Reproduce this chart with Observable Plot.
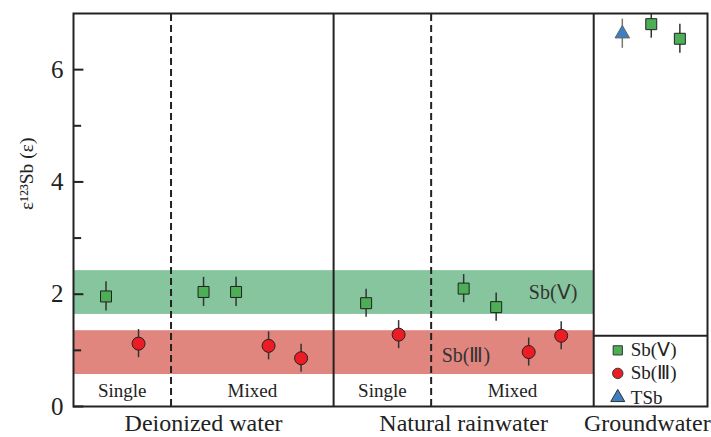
<!DOCTYPE html>
<html>
<head>
<meta charset="utf-8">
<script src="https://cdn.jsdelivr.net/npm/d3@7"></script>
<script src="https://cdn.jsdelivr.net/npm/@observablehq/plot@0.6"></script>
<style>
  body { margin: 0; background: #fff; }
  #chart svg { display: block; }
  #chart svg, #chart svg text { font-family: "Liberation Serif", "Times New Roman", serif !important; }
</style>
</head>
<body>
<div id="chart"></div>
<script>
// ---- data ----
const sbV_x   = [1, 4, 5, 9, 12, 13, 17.77, 18.65];
const sbV_y   = [1.96, 2.04, 2.04, 1.84, 2.10, 1.77, 6.81, 6.55];
const sbV_err = [0.26, 0.26, 0.26, 0.25, 0.25, 0.25, 0.25, 0.26];

const sbIII_x   = [2, 6, 7, 10, 14, 15];
const sbIII_y   = [1.12, 1.08, 0.86, 1.28, 0.97, 1.26];
const sbIII_err = [0.25, 0.25, 0.25, 0.25, 0.25, 0.25];

const tsb_x   = [16.88];
const tsb_y   = [6.64];
const tsb_err = [0.26];

const bandNames = ["Sb(Ⅴ)", "Sb(Ⅲ)"];
const bandLow   = [1.64, 0.57];
const bandHigh  = [2.42, 1.35];
const bandColor = ["#86c59e", "#e0867f"];
const bandLabelX = [14.75, 12.07];
const bandLabelY = [2.02, 0.91];

const subLabels = ["Single", "Mixed", "Single", "Mixed"];
const subLabelX = [1.5, 5.5, 9.5, 13.5];

const groupLabels = ["Deionized water", "Natural rainwater", "Groundwater"];
const groupLabelX = [4.0, 12.0, 17.65];

const yTicks = [0, 2, 4, 6];
const yMinorTicks = [1, 3, 5];
const panelBounds = [8, 16];
const dashedBounds = [3, 11];

const legendNames = ["Sb(Ⅴ)", "Sb(Ⅲ)", "TSb"];
const legendSymbols = ["square", "circle", "triangle"];
const legendColors = ["#4cae55", "#ed1c24", "#3d7fc0"];
const legendY = [1.0, 0.59, 0.16];

// ---- build ----
const zip = (xs, ys, es) => xs.map((x, i) => ({x, y: ys[i], e: es[i]}));
const sbV = zip(sbV_x, sbV_y, sbV_err);
const sbIII = zip(sbIII_x, sbIII_y, sbIII_err);
const tsb = zip(tsb_x, tsb_y, tsb_err);
const bands = bandNames.map((n, i) => ({n, lo: bandLow[i], hi: bandHigh[i], c: bandColor[i], lx: bandLabelX[i], ly: bandLabelY[i]}));
const legend = legendNames.map((n, i) => ({n, s: legendSymbols[i], c: legendColors[i], y: legendY[i]}));
const serif = "Liberation Serif";

const chart = Plot.plot({
  width: 711,
  height: 437,
  marginLeft: 73,
  marginRight: 4,
  marginTop: 13,
  marginBottom: 31,
  style: {fontFamily: serif, background: "#fff", color: "#222"},
  x: {domain: [0, 19.5], axis: null},
  y: {domain: [0, 7], axis: null},
  marks: [
    Plot.rect(bands, {x1: 0, x2: 16, y1: "lo", y2: "hi", fill: "c"}),
    Plot.ruleX(dashedBounds, {y1: 0, y2: 7, stroke: "#222", strokeWidth: 2, strokeDasharray: "7,4"}),
    Plot.ruleX(panelBounds, {y1: 0, y2: 7, stroke: "#222", strokeWidth: 2}),
    Plot.ruleY([1.26], {x1: 16, x2: 19.5, stroke: "#222", strokeWidth: 2}),
    // y ticks (inward)
    Plot.ruleY(yTicks, {x1: 0, x2: 0.32, stroke: "#222", strokeWidth: 2}),
    Plot.ruleY(yMinorTicks, {x1: 0, x2: 0.25, stroke: "#222", strokeWidth: 2}),
    Plot.text(yTicks, {y: d => d, text: d => String(d), frameAnchor: "left", dx: -10, textAnchor: "end", fontSize: 25, fontFamily: serif, fill: "#222"}),
    Plot.text(["ε¹²³Sb (ε)"], {frameAnchor: "left", dx: -47, rotate: -90, fontSize: 19.5, fontFamily: serif, fill: "#222"}),
    // band labels
    Plot.text(bands, {x: "lx", y: "ly", text: "n", fontSize: 20, fontFamily: serif, fill: "#333"}),
    Plot.text(subLabels, {x: (d, i) => subLabelX[i], y: 0.28, text: d => d, fontSize: 19, fontFamily: serif, fill: "#222"}),
    Plot.text(groupLabels, {x: (d, i) => groupLabelX[i], y: -0.445, lineAnchor: "bottom", text: d => d, fontSize: 24, fontFamily: serif, fill: "#222"}),
    // error bars
    Plot.ruleX(sbV, {x: "x", y1: d => d.y - d.e, y2: d => d.y + d.e, stroke: "#333", strokeWidth: 1.5, clip: true}),
    Plot.ruleX(sbIII, {x: "x", y1: d => d.y - d.e, y2: d => d.y + d.e, stroke: "#333", strokeWidth: 1.5}),
    Plot.ruleX(tsb, {x: "x", y1: d => d.y - d.e, y2: d => d.y + d.e, stroke: "#777", strokeWidth: 1.5}),
    // markers
    Plot.dot(sbV, {x: "x", y: "y", symbol: "square", r: 6.2, fill: "#4cae55", stroke: "#222", strokeWidth: 1}),
    Plot.dot(sbIII, {x: "x", y: "y", symbol: "circle", r: 6.5, fill: "#ed1c24", stroke: "#222", strokeWidth: 1}),
    Plot.dot(tsb, {x: "x", y: "y", symbol: "triangle", r: 5.4, fill: "#3d7fc0", stroke: "#666", strokeWidth: 1}),
    // legend
    Plot.dot(legend, {x: 16.74, y: "y", symbol: "s", fill: "c", r: 5.2, stroke: "#333", strokeWidth: 1}),
    Plot.text(legend, {x: 17.14, y: "y", text: "n", textAnchor: "start", fontSize: 19, fontFamily: serif, fill: "#222"}),
    Plot.frame({stroke: "#222", strokeWidth: 2})
  ]
});
document.getElementById("chart").appendChild(chart);
</script>
</body>
</html>
